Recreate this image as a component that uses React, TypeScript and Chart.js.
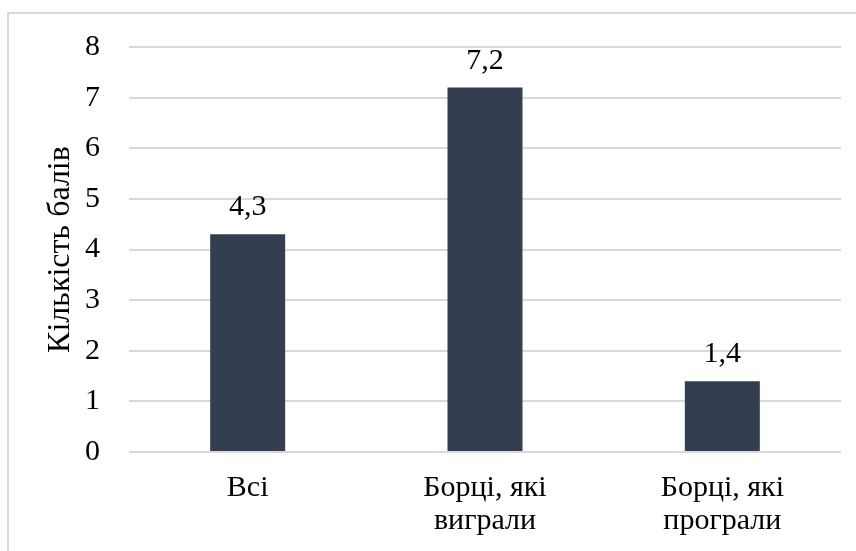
import React, { useEffect, useRef } from "react";
import { Chart, registerables } from "chart.js";

Chart.register(...registerables);

const categories: (string | string[])[] = ["Всі", ["Борці, які", "виграли"], ["Борці, які", "програли"]];
const values: number[] = [4.3, 7.2, 1.4];
const valueLabels: string[] = ["4,3", "7,2", "1,4"];
const yTitle = "Кількість балів";
const yMin = 0;
const yMax = 8;

const SERIF = "'Liberation Serif', 'Times New Roman', serif";

const framePlugin = {
  id: "frame",
  beforeDraw(chart: any) {
    const ctx = chart.ctx;
    ctx.save();
    ctx.fillStyle = "#ffffff";
    ctx.fillRect(0, 0, chart.width, chart.height);
    ctx.strokeStyle = "#D9D9D9";
    ctx.lineWidth = 2;
    ctx.strokeRect(8, 13, chart.width + 40, chart.height + 40);
    ctx.restore();
  },
};

const labelPlugin = {
  id: "valueLabels",
  afterDatasetsDraw(chart: any) {
    const ctx = chart.ctx;
    const meta = chart.getDatasetMeta(0);
    ctx.save();
    ctx.font = `30px ${SERIF}`;
    ctx.fillStyle = "#000000";
    ctx.textAlign = "center";
    ctx.textBaseline = "alphabetic";
    meta.data.forEach((el: any, i: number) => {
      ctx.fillText(valueLabels[i], el.x, el.y - 19);
    });
    ctx.restore();
  },
};

export default function App() {
  const ref = useRef<HTMLCanvasElement | null>(null);
  useEffect(() => {
    if (!ref.current) return;
    const chart = new Chart(ref.current, {
      type: "bar",
      data: {
        labels: categories,
        datasets: [
          {
            data: values,
            backgroundColor: "#333F50",
            categoryPercentage: 1,
            barPercentage: 0.316,
          },
        ],
      },
      options: {
        animation: false,
        responsive: false,
        maintainAspectRatio: false,
        layout: { padding: { left: 41, top: 44, right: 15, bottom: 0 } },
        plugins: { legend: { display: false }, tooltip: { enabled: false } },
        scales: {
          x: {
            grid: { display: false, drawTicks: false },
            border: { display: false },
            ticks: {
              color: "#000000",
              font: { family: SERIF, size: 30, lineHeight: 1.1 },
              padding: 20,
              maxRotation: 0,
              autoSkip: false,
            },
            afterFit(scale: any) {
              scale.height = 99;
            },
          },
          y: {
            min: yMin,
            max: yMax,
            grid: { color: "#D9D9D9", lineWidth: 2, drawTicks: false },
            border: { display: false },
            ticks: {
              stepSize: 1,
              color: "#000000",
              font: { family: SERIF, size: 30 },
              padding: 29,
            },
            title: {
              display: true,
              text: yTitle,
              color: "#000000",
              font: { family: SERIF, size: 32, lineHeight: 1.2 },
              padding: 0,
            },
            afterFit(scale: any) {
              scale.width = 88;
            },
          },
        },
      },
      plugins: [framePlugin, labelPlugin],
    });
    return () => chart.destroy();
  }, []);
  return (
    <div style={{ position: "absolute", left: 0, top: 0, width: 856, height: 551 }}>
      <canvas ref={ref} width={856} height={551} style={{ width: 856, height: 551 }} />
    </div>
  );
}
